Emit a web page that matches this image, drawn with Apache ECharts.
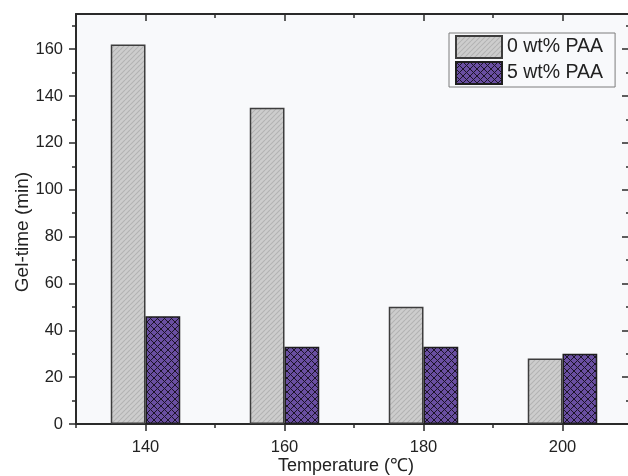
<!DOCTYPE html>
<html>
<head>
<meta charset="utf-8">
<script src="https://cdn.jsdelivr.net/npm/echarts@6/dist/echarts.min.js"></script>
<style>
  html, body { margin: 0; padding: 0; background: #ffffff; overflow: hidden; }
  #chart { width: 628px; height: 476px; }
</style>
</head>
<body>
<div id="chart"></div>
<script>
// Gel time of the resin at each curing temperature, with and without PAA
const categories = ['140', '160', '180', '200'];
const seriesNames = ['0 wt% PAA', '5 wt% PAA'];
const gelTime0 = [162, 135, 50, 28];
const gelTime5 = [46, 33, 33, 30];

// Tick positions
const yMajorTicks = [0, 20, 40, 60, 80, 100, 120, 140, 160];
const yMinorTicks = [10, 30, 50, 70, 90, 110, 130, 150, 170];
const xMinorTicks = [130, 150, 170, 190, 210];

// Repeating fill tiles for the bars
function diagonalTile() {
  const s = 5;
  const c = document.createElement('canvas');
  c.width = s; c.height = s;
  const g = c.getContext('2d');
  g.fillStyle = '#cdcdcd';
  g.fillRect(0, 0, s, s);
  g.strokeStyle = '#b3b3b3';
  g.lineWidth = 1.1;
  g.beginPath();
  for (const k of [-s, 0, s]) {
    g.moveTo(k, s);
    g.lineTo(k + s, 0);
  }
  g.stroke();
  return c;
}
function crossTile() {
  const s = 7;
  const c = document.createElement('canvas');
  c.width = s; c.height = s;
  const g = c.getContext('2d');
  g.fillStyle = '#6a4fa2';
  g.fillRect(0, 0, s, s);
  g.strokeStyle = '#1c1428';
  g.lineWidth = 1;
  g.beginPath();
  for (const k of [-s, 0, s]) {
    g.moveTo(k, 0); g.lineTo(k + s, s);
    g.moveTo(k, s); g.lineTo(k + s, 0);
  }
  g.stroke();
  return c;
}

const axisColor = '#2a2a2a';
const textColor = '#222222';
const font = 'Liberation Sans, Arial, sans-serif';

function tickStyle(len, inside) {
  return { show: true, inside: !!inside, length: len, lineStyle: { color: axisColor, width: 1.5 } };
}

const chart = echarts.init(document.getElementById('chart'), null, { renderer: 'canvas' });

// The frame's right edge sits just past the canvas, so only the inward ticks of the right axis show
chart.setOption({
  backgroundColor: '#ffffff',
  animation: false,
  textStyle: { fontFamily: font, color: textColor },
  grid: {
    left: 76, top: 14, width: 556, height: 410,
    outerBoundsMode: 'none',
    show: true, backgroundColor: '#f8f9fb', borderWidth: 0
  },
  legend: {
    orient: 'vertical',
    left: 449, top: 33,
    padding: [2, 12, 2, 6],
    itemGap: 2,
    itemWidth: 46, itemHeight: 22,
    icon: 'rect',
    borderColor: '#7d7d7d', borderWidth: 1,
    textStyle: { fontSize: 19.5, color: textColor, fontFamily: font, lineHeight: 22 },
    data: seriesNames
  },
  xAxis: [
    {
      type: 'category', position: 'bottom', data: categories,
      boundaryGap: true,
      axisLine: { onZero: false, lineStyle: { color: axisColor, width: 2 } },
      axisTick: Object.assign(tickStyle(7), { alignWithLabel: true }),
      axisLabel: { fontSize: 16.5, color: textColor, margin: 15, fontFamily: font },
      name: 'Temperature (℃)', nameLocation: 'middle', nameGap: 33, nameMoveOverlap: false,
      nameTextStyle: { fontSize: 18, color: textColor, fontFamily: font, padding: [0, 16, 0, 0] }
    },
    {
      type: 'value', position: 'bottom', min: 130, max: 210,
      axisLine: { show: false, onZero: false }, splitLine: { show: false },
      axisLabel: { show: false },
      axisTick: Object.assign(tickStyle(4), { customValues: xMinorTicks })
    },
    {
      type: 'category', position: 'top', data: categories,
      boundaryGap: true,
      axisLine: { onZero: false, lineStyle: { color: axisColor, width: 2 } },
      axisTick: Object.assign(tickStyle(7, true), { alignWithLabel: true }),
      axisLabel: { show: false }
    },
    {
      type: 'value', position: 'top', min: 130, max: 210,
      axisLine: { show: false, onZero: false }, splitLine: { show: false },
      axisLabel: { show: false },
      axisTick: Object.assign(tickStyle(4, true), { customValues: xMinorTicks })
    }
  ],
  yAxis: [
    {
      type: 'value', position: 'left', min: 0, max: 175,
      axisLine: { show: true, onZero: false, lineStyle: { color: axisColor, width: 2 } },
      splitLine: { show: false },
      axisTick: Object.assign(tickStyle(7), { customValues: yMajorTicks }),
      axisLabel: { customValues: yMajorTicks, fontSize: 16.5, color: textColor, margin: 13, fontFamily: font },
      name: 'Gel-time (min)', nameLocation: 'middle', nameGap: 44, nameRotate: 90, nameMoveOverlap: false,
      nameTextStyle: { fontSize: 19, color: textColor, fontFamily: font, padding: [0, 26, 0, 0] }
    },
    {
      type: 'value', position: 'left', min: 0, max: 175,
      axisLine: { show: false, onZero: false }, splitLine: { show: false },
      axisLabel: { show: false },
      axisTick: Object.assign(tickStyle(4), { customValues: yMinorTicks })
    },
    {
      type: 'value', position: 'right', min: 0, max: 175,
      axisLine: { show: true, onZero: false, lineStyle: { color: axisColor, width: 2 } },
      splitLine: { show: false },
      axisLabel: { show: false },
      axisTick: Object.assign(tickStyle(10, true), { customValues: yMajorTicks })
    },
    {
      type: 'value', position: 'right', min: 0, max: 175,
      axisLine: { show: false, onZero: false }, splitLine: { show: false },
      axisLabel: { show: false },
      axisTick: Object.assign(tickStyle(6, true), { customValues: yMinorTicks })
    }
  ],
  series: [
    {
      name: seriesNames[0], type: 'bar', xAxisIndex: 0, yAxisIndex: 0,
      data: gelTime0,
      barWidth: '25%', barGap: '0%',
      itemStyle: {
        color: { image: diagonalTile(), repeat: 'repeat' },
        borderColor: '#3d3d3d', borderWidth: 1.5
      }
    },
    {
      name: seriesNames[1], type: 'bar', xAxisIndex: 0, yAxisIndex: 0,
      data: gelTime5,
      barWidth: '25%', barGap: '0%',
      itemStyle: {
        color: { image: crossTile(), repeat: 'repeat' },
        borderColor: '#1e1e1e', borderWidth: 1.5
      }
    }
  ]
});
</script>
</body>
</html>
